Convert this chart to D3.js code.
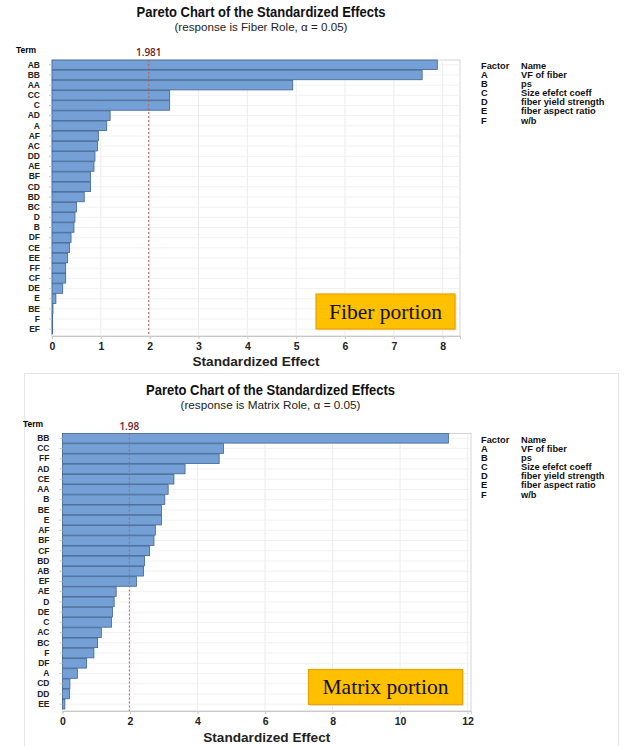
<!DOCTYPE html>
<html>
<head>
<meta charset="utf-8">
<script src="https://cdn.jsdelivr.net/npm/d3@7"></script>
<style>
  body { margin: 0; background: #fff; }
  svg { display: block; font-family: "Open Sans", "Noto Sans", sans-serif; }
</style>
</head>
<body>
<svg id="chart" width="624" height="746"></svg>
<script>
const fiberTerms = ["AB","BB","AA","CC","C","AD","A","AF","AC","DD","AE","BF","CD","BD","BC","D","B","DF","CE","EE","FF","CF","DE","E","BE","F","EF"];
const fiberEffects = [7.89,7.58,4.93,2.41,2.41,1.19,1.12,0.95,0.93,0.88,0.86,0.79,0.79,0.66,0.5,0.47,0.45,0.39,0.36,0.32,0.28,0.28,0.22,0.08,0.02,0.012,0.006];
const fiberTicks = [0,1,2,3,4,5,6,7,8];

const matrixTerms = ["BB","CC","FF","AD","CE","AA","B","BE","E","AF","BF","CF","BD","AB","EF","AE","D","DE","C","AC","BC","F","DF","A","CD","DD","EE"];
const matrixEffects = [11.43,4.77,4.64,3.63,3.3,3.13,3.03,2.93,2.93,2.75,2.71,2.58,2.43,2.4,2.19,1.59,1.53,1.48,1.45,1.15,1.04,0.93,0.71,0.44,0.22,0.21,0.07];
const matrixTicks = [0,2,4,6,8,10,12];

const factorCodes = ["A","B","C","D","E","F"];
const factorNames = ["VF of fiber","ps","Size efefct coeff","fiber yield strength","fiber aspect ratio","w/b"];

const svg = d3.select("svg#chart");

// faint frame round the lower panel
svg.append("rect")
	.attr("x", 24.5).attr("y", 373.5).attr("width", 594).attr("height", 380)
	.attr("fill", "none").attr("stroke", "#e6e6e6");

function drawPareto(cfg) {
	const g = svg.append("g");
	const x = d3.scaleLinear([0, cfg.xMax], [cfg.left, cfg.right]);
	const y = d3.scaleBand(cfg.terms, [cfg.top, cfg.bottom - 2]).paddingInner(0.06);

	// titles
	g.append("text")
		.attr("x", cfg.cx).attr("y", cfg.titleY)
		.attr("text-anchor", "middle")
		.attr("font-family", "Liberation Sans, sans-serif")
		.attr("font-size", 14.5).attr("font-weight", 700)
		.attr("textLength", 249).attr("lengthAdjust", "spacingAndGlyphs")
		.attr("fill", "#111")
		.text("Pareto Chart of the Standardized Effects");
	g.append("text")
		.attr("x", cfg.cx).attr("y", cfg.titleY + 13.5)
		.attr("text-anchor", "middle")
		.attr("font-family", "Liberation Sans, sans-serif")
		.attr("font-size", 11.5)
		.attr("textLength", cfg.subWidth).attr("lengthAdjust", "spacingAndGlyphs")
		.attr("fill", "#222")
		.text(cfg.subtitle);

	// plot frame + grid
	g.append("rect")
		.attr("x", cfg.left).attr("y", cfg.top)
		.attr("width", cfg.right - cfg.left).attr("height", cfg.bottom - cfg.top)
		.attr("fill", "#fff").attr("stroke", "#d4d4d4");
	g.selectAll(".vgrid").data(cfg.ticks).enter().append("line")
		.attr("x1", (d) => x(d)).attr("x2", (d) => x(d))
		.attr("y1", cfg.top).attr("y2", cfg.bottom)
		.attr("stroke", "#ececec");
	g.selectAll(".hgrid").data(cfg.terms).enter().append("line")
		.attr("x1", cfg.left).attr("x2", cfg.right)
		.attr("y1", (d) => y(d) + y.bandwidth() / 2)
		.attr("y2", (d) => y(d) + y.bandwidth() / 2)
		.attr("stroke", "#f1f1f1");

	// bars
	g.selectAll(".bar").data(cfg.terms).enter().append("rect")
		.attr("x", x(0))
		.attr("y", (d) => y(d))
		.attr("width", (d, i) => Math.max(0.6, x(cfg.effects[i]) - x(0)))
		.attr("height", y.bandwidth())
		.attr("fill", "#74a0d6")
		.attr("stroke", "#3f6392")
		.attr("stroke-width", 0.8);

	// reference line
	g.append("line")
		.attr("x1", x(cfg.crit)).attr("x2", x(cfg.crit))
		.attr("y1", cfg.top).attr("y2", cfg.bottom)
		.attr("stroke", "#b0615c").attr("stroke-width", 1)
		.attr("stroke-dasharray", "2,2");
	g.append("text")
		.attr("x", x(cfg.crit)).attr("y", cfg.top - 4)
		.attr("text-anchor", "middle")
		.attr("font-size", 10).attr("font-weight", 600)
		.attr("fill", "#6d1b1b")
		.text(cfg.critLabel);

	// axes
	const xAxis = d3.axisBottom(x).tickValues(cfg.ticks).tickSize(3).tickFormat(d3.format("d"));
	const xg = g.append("g")
		.attr("transform", `translate(0,${cfg.bottom})`)
		.call(xAxis);
	xg.select(".domain").attr("stroke", "#c8c8c8");
	xg.selectAll(".tick line").attr("stroke", "#c8c8c8");
	xg.selectAll(".tick text")
		.attr("font-family", "Liberation Sans, sans-serif").attr("font-size", 10.5).attr("font-weight", 700)
		.attr("fill", "#222").attr("dy", "0.78em");

	const yAxis = d3.axisLeft(y).tickSize(3).tickPadding(cfg.labelPad);
	const yg = g.append("g")
		.attr("transform", `translate(${cfg.left},0)`)
		.call(yAxis);
	yg.select(".domain").remove();
	yg.selectAll(".tick line").attr("stroke", "#c8c8c8");
	yg.selectAll(".tick text")
		.attr("font-family", "Liberation Sans, sans-serif").attr("font-size", 8.5).attr("font-weight", 700)
		.attr("fill", "#222");

	g.append("text")
		.attr("x", cfg.termX).attr("y", cfg.top - 7)
		.attr("font-family", "Liberation Sans, sans-serif")
		.attr("font-size", 8.5).attr("font-weight", 700)
		.text("Term");

	g.append("text")
		.attr("x", (cfg.left + cfg.right) / 2).attr("y", cfg.xLabelY)
		.attr("text-anchor", "middle")
		.attr("font-family", "Liberation Sans, sans-serif")
		.attr("font-size", 13.5).attr("font-weight", 700)
		.attr("textLength", 127).attr("lengthAdjust", "spacingAndGlyphs")
		.attr("fill", "#222")
		.text("Standardized Effect");

	// legend, stretched sideways like the wide original face
	const leg = g.append("g")
		.attr("transform", `translate(481,${cfg.legendY}) scale(1.12,1)`)
		.attr("font-family", "Liberation Sans, sans-serif")
		.attr("font-size", 8.3).attr("font-weight", 700).attr("fill", "#111");
	leg.append("text").attr("x", 0).attr("y", 0).text("Factor");
	leg.append("text").attr("x", 40 / 1.12).attr("y", 0).text("Name");
	leg.selectAll(".code").data(factorCodes).enter().append("text")
		.attr("x", 0).attr("y", (d, i) => 9.1 * (i + 1))
		.text((d) => d);
	leg.selectAll(".name").data(factorNames).enter().append("text")
		.attr("x", 40 / 1.12).attr("y", (d, i) => 9.1 * (i + 1))
		.text((d) => d);

	// annotation box
	const b = cfg.box;
	g.append("rect")
		.attr("x", b.x + 1.5).attr("y", b.y + 1.5).attr("width", b.w).attr("height", b.h)
		.attr("fill", "#e9e2cf");
	g.append("rect")
		.attr("x", b.x).attr("y", b.y).attr("width", b.w).attr("height", b.h)
		.attr("fill", "#ffc000").attr("stroke", "#e8a200").attr("stroke-width", 1.2);
	g.append("text")
		.attr("x", b.x + b.w / 2).attr("y", b.y + b.h / 2 + 7)
		.attr("text-anchor", "middle")
		.attr("font-family", "Liberation Serif, serif").attr("font-size", 21.5)
		.attr("fill", "#111")
		.text(b.label);
}

drawPareto({
	terms: fiberTerms, effects: fiberEffects, ticks: fiberTicks,
	xMax: 8.355, left: 52, right: 460, top: 60, bottom: 336,
	cx: 261, titleY: 17, subtitle: "(response is Fiber Role, \u03b1 = 0.05)", subWidth: 173,
	crit: 1.981, critLabel: "1.981", termX: 16, labelPad: 9,
	xLabelY: 366, legendY: 69,
	box: { x: 316, y: 294, w: 139, h: 35, label: "Fiber portion" }
});

drawPareto({
	terms: matrixTerms, effects: matrixEffects, ticks: matrixTicks,
	xMax: 12.1, left: 62.5, right: 471, top: 433.5, bottom: 711,
	cx: 270.5, titleY: 395, subtitle: "(response is Matrix Role, \u03b1 = 0.05)", subWidth: 180,
	crit: 1.98, critLabel: "1.98", termX: 23, labelPad: 10,
	xLabelY: 742, legendY: 443,
	box: { x: 308.5, y: 669.5, w: 154, h: 35, label: "Matrix portion" }
});
</script>
</body>
</html>
